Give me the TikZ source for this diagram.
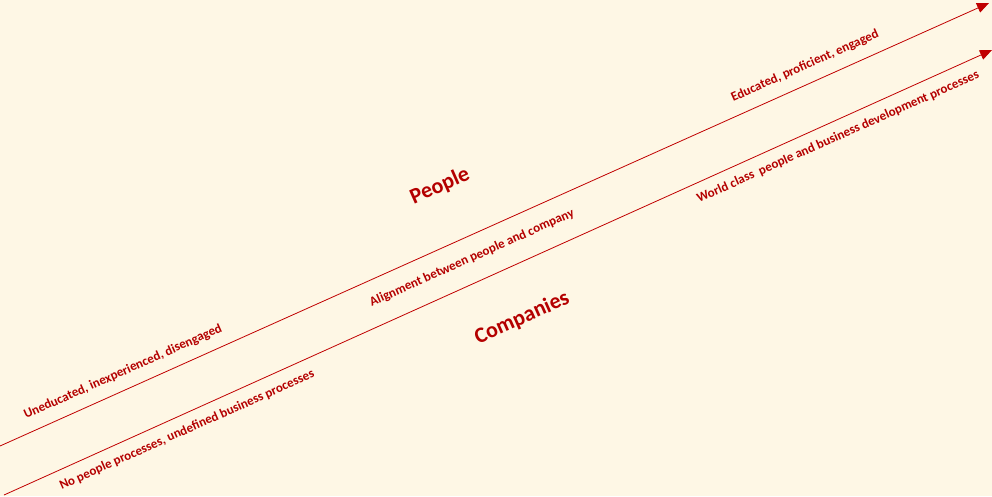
\documentclass[tikz,border=0pt]{standalone}
\usepackage{fontspec}
\setmainfont{Carlito}
\usetikzlibrary{arrows.meta}
\definecolor{bgc}{RGB}{254,247,229}
\definecolor{dred}{RGB}{192,0,0}
\definecolor{tred}{RGB}{180,0,0}
\tikzset{
  axisline/.style={draw=dred, line width=0.8pt, -{Triangle[length=12pt,width=10pt]}},
  small/.style={text=tred, font=\bfseries\fontsize{13}{15}\selectfont, rotate=24, inner sep=0pt},
  big/.style={text=tred, font=\bfseries\fontsize{22}{26}\selectfont, rotate=24, inner sep=0pt}
}
\begin{document}
\begin{tikzpicture}[x=1pt,y=-1pt]
\fill[bgc] (0,0) rectangle (992,496);
\useasboundingbox (0,0) rectangle (992,496);
\coordinate (s1) at (0,446);
\coordinate (e1) at (989,3);
\coordinate (s2) at (4,495);
\coordinate (e2) at (992,50);
\draw[axisline] (s1) -- (e1);
\draw[axisline] (s2) -- (e2);
\node[small] (t1) at (123,372) {Uneducated, inexperienced, disengaged};
\node[small] (t2) at (187,430) {No people processes, undefined business processes};
\node[small] (t3) at (805,66) {Educated, proficient,\ engaged};
\node[small] (t4) at (838,137) {World class\ \ people and business development processes};
\node[small] (t5) at (472,258) {Alignment between people and company};
\node[big] (t6) at (440,186) {People};
\node[big] (t7) at (522,318) {Companies};
\end{tikzpicture}
\end{document}
